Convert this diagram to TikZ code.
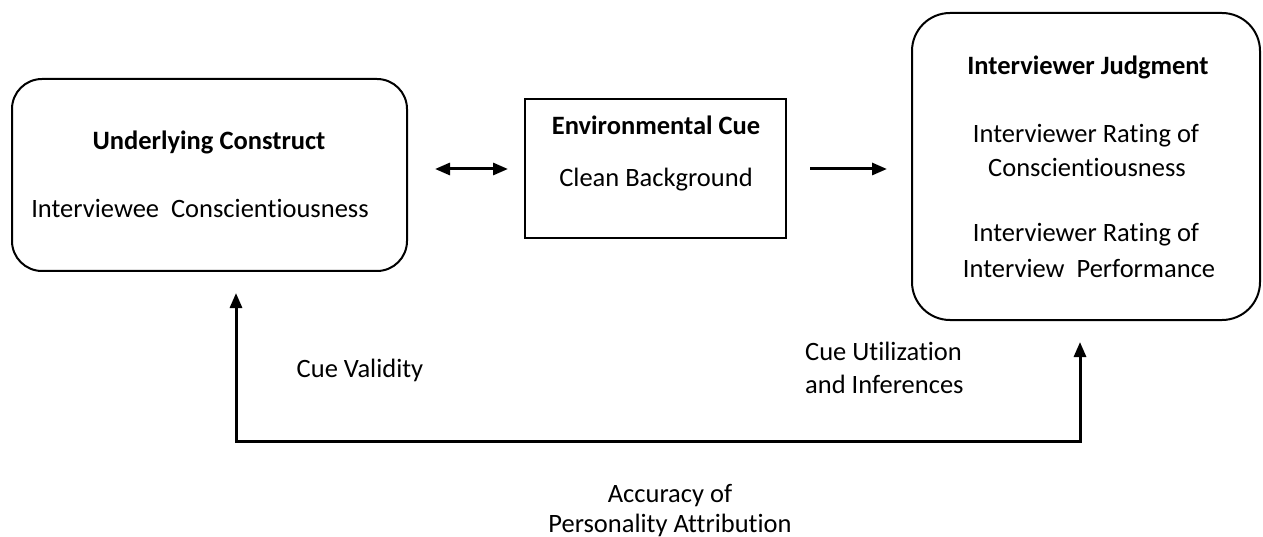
\documentclass[tikz,border=0pt]{standalone}
\usepackage{fontspec}
\setmainfont{Carlito}[Ligatures={NoCommon}]
\usetikzlibrary{arrows.meta}
\begin{document}
\begin{tikzpicture}[x=1pt,y=-1pt,
 box/.style={draw, line width=2pt, inner sep=0pt},
 txt/.style={anchor=base, inner sep=0pt, font=\fontsize{26.5}{33}\selectfont},
 btxt/.style={anchor=base, inner sep=0pt, font=\fontsize{26.5}{33}\selectfont\bfseries},
 arr/.style={line width=3pt, -{Triangle[length=15pt,width=12pt]}},
 darr/.style={line width=3pt, line join=miter, {Triangle[length=15pt,width=12pt]}-{Triangle[length=15pt,width=12pt]}},
]
\useasboundingbox (0,0) rectangle (1263,537);
% boxes
\node[box, rounded corners=30pt, minimum width=395pt, minimum height=192pt] (uc) at (209.5,175) {};
\node[box, minimum width=261pt, minimum height=139pt] (ec) at (655.5,168.5) {};
\node[box, rounded corners=38pt, minimum width=348pt, minimum height=307pt] (ij) at (1086,166.5) {};
% texts
\node[btxt] (t1) at (209,150) {Underlying Construct};
\node[txt] (t2) at (200,218) {Interviewee\ \ Conscientiousness};
\node[btxt] (t3) at (656,135) {Environmental Cue};
\node[txt] (t4) at (656,187) {Clean Background};
\node[btxt] (t5) at (1088,75) {Interviewer Judgment};
\node[txt] (t6) at (1086,143) {Interviewer Rating of};
\node[txt] (t7) at (1087,177) {Conscientiousness};
\node[txt] (t8) at (1086,242) {Interviewer Rating of};
\node[txt] (t9) at (1089,277) {Interview\ \ Performance};
\node[txt] (cv) at (360,377) {Cue Validity};
\node[txt, anchor=base west] (cu1) at (805,360) {Cue Utilization};
\node[txt, anchor=base west] (cu2) at (805,393) {and Inferences};
\node[txt] (ac1) at (670,502) {Accuracy of};
\node[txt] (ac2) at (670,532) {Personality Attribution};
% connectors
\coordinate (d1) at (435,169);
\coordinate (d2) at (508,169);
\coordinate (r1) at (810,169);
\coordinate (r2) at (887,169);
\coordinate (fL) at (236,293);
\coordinate (fBL) at (236,441);
\coordinate (fBR) at (1080,441);
\coordinate (fR) at (1080,342);
\draw[darr] (d1) -- (d2);
\draw[arr] (r1) -- (r2);
\draw[darr] (fL) -- (fBL) -- (fBR) -- (fR);
\end{tikzpicture}
\end{document}
